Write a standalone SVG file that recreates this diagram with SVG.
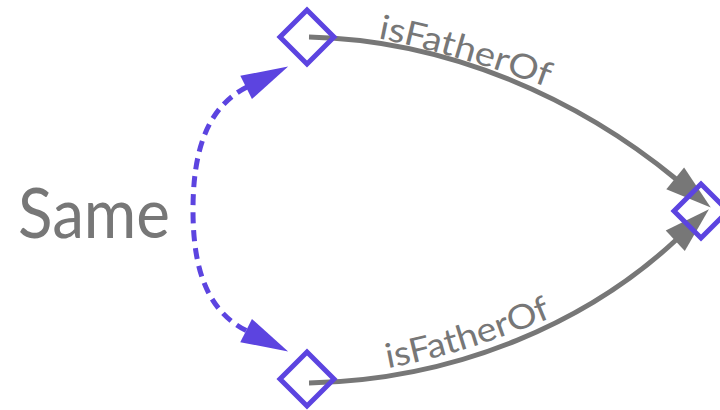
<svg xmlns="http://www.w3.org/2000/svg" width="720" height="410" viewBox="0 0 720 410">
  <style>
    .node { fill: none; stroke: #5c44e0; stroke-width: 5; stroke-linejoin: miter; }
    .rel { fill: none; stroke: #777777; stroke-width: 5; }
    .same { fill: none; stroke: #5c44e0; stroke-width: 5; stroke-dasharray: 11 7; }
    .lbl { fill: #777777; font-family: Lato, "Open Sans", "Liberation Sans", sans-serif; }
  </style>
  <defs>
    <marker id="arrGray" markerUnits="userSpaceOnUse" markerWidth="50" markerHeight="32" refX="1" refY="16" orient="auto" overflow="visible">
      <path d="M0,2 L46,16 L0,30 Z" fill="#777777"/>
    </marker>
    <marker id="arrPurple" markerUnits="userSpaceOnUse" markerWidth="50" markerHeight="32" refX="1" refY="16" orient="auto-start-reverse" overflow="visible">
      <path d="M0,3 L47,16 L0,29 Z" fill="#5c44e0"/>
    </marker>
    <path id="lblTop" d="M376,38 Q462,55 565,94"/>
    <path id="lblBot" d="M384,369 Q470,353 565,312"/>
  </defs>

  <g id="connectors">
    <path class="rel" d="M309,37 C450,40 580,100 676,179" marker-end="url(#arrGray)"/>
    <path class="rel" d="M309,383 C460,380 590,320 676,240" marker-end="url(#arrGray)"/>
    <path class="same" d="M247,87 C205,108 193,155 193,210 C193,265 205,310 247,331" marker-start="url(#arrPurple)" marker-end="url(#arrPurple)"/>
    <text class="lbl" font-size="34" textLength="176" lengthAdjust="spacingAndGlyphs"><textPath href="#lblTop" startOffset="2">isFatherOf</textPath></text>
    <text class="lbl" font-size="34" textLength="172" lengthAdjust="spacingAndGlyphs"><textPath href="#lblBot" startOffset="4">isFatherOf</textPath></text>
    <text class="lbl" x="18" y="238" font-size="69" textLength="152" lengthAdjust="spacingAndGlyphs">Same</text>
  </g>

  <g id="node-top">
    <polygon class="node" points="307,10 334,37 307,64 280,37"/>
  </g>
  <g id="node-bottom">
    <polygon class="node" points="307,352 334,379 307,406 280,379"/>
  </g>
  <g id="node-right">
    <polygon class="node" points="701,184 728,211 701,238 674,211"/>
  </g>
</svg>
